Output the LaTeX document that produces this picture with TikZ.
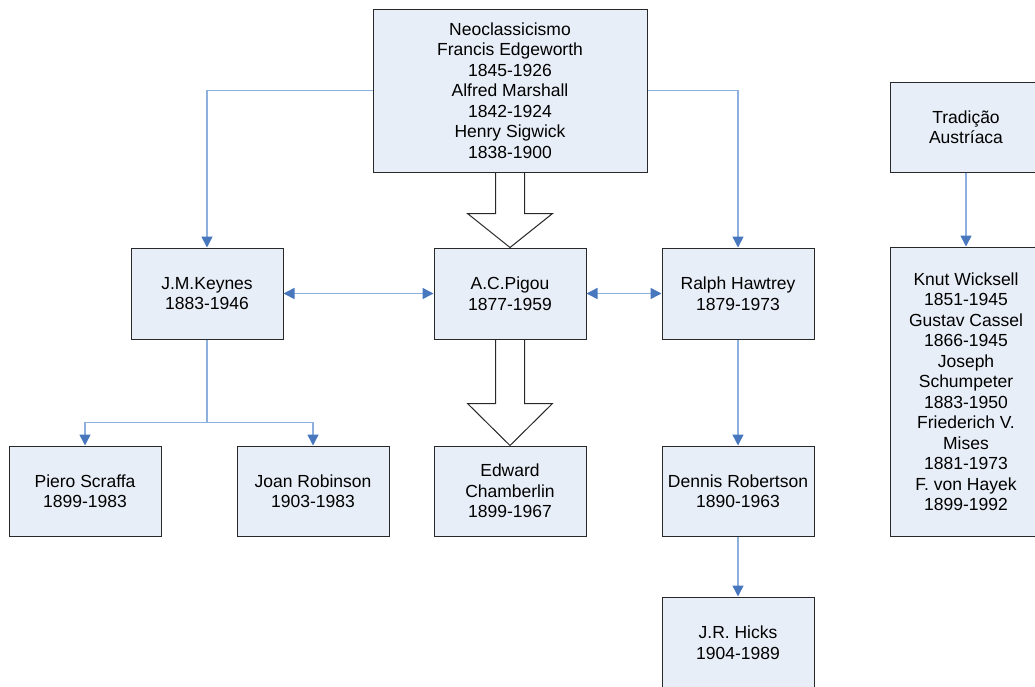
\documentclass[tikz,border=0pt]{standalone}
\usepackage{fontspec}
\setmainfont{Liberation Sans}
\usetikzlibrary{arrows.meta,calc}
\definecolor{boxfill}{RGB}{232,238,247}
\definecolor{boxline}{RGB}{40,40,40}
\definecolor{linkblue}{RGB}{141,176,222}
\definecolor{tipblue}{RGB}{72,119,190}
\newcommand\holarrow[3]{%
  \draw[hollow] ($(#1.south)+(-14.5,0)$) -- ($(#2.north)+(-14.5,#3)$) -- ($(#2.north)+(-42.5,#3)$)
   -- (#2.north) -- ($(#2.north)+(42.5,#3)$) -- ($(#2.north)+(14.5,#3)$) -- ($(#1.south)+(14.5,0)$);}
\begin{document}
\begin{tikzpicture}[x=1pt,y=1pt,
  person/.style={draw=boxline, fill=boxfill, line width=1pt, align=center,
    minimum width=152pt, minimum height=91pt, inner sep=0pt,
    font=\fontsize{17.5}{20.5}\selectfont},
  conn/.style={draw=linkblue, line width=1.5pt,
    -{Triangle[width=11pt,length=11pt,color=tipblue]}},
  biconn/.style={draw=linkblue, line width=1.5pt,
    {Triangle[width=11pt,length=11pt,color=tipblue]}-{Triangle[width=11pt,length=11pt,color=tipblue]}},
  plain/.style={draw=linkblue, line width=1.5pt},
  hollow/.style={draw=boxline, line width=1pt, line join=miter}]
\useasboundingbox (0,0) rectangle (1035,-686);
\clip (0,0) rectangle (1035,-686);
\node[person, minimum width=274pt, minimum height=163pt] (neo) at (510,-90.5)
  {Neoclassicismo\\Francis Edgeworth\\1845-1926\\Alfred Marshall\\1842-1924\\Henry Sigwick\\1838-1900};
\node[person] (keynes) at (207,-293.5) {J.M.Keynes\\1883-1946};
\node[person] (pigou) at (510,-293.5) {A.C.Pigou\\1877-1959};
\node[person] (hawtrey) at (738,-293.5) {Ralph Hawtrey\\1879-1973};
\node[person, minimum height=90pt] (piero) at (85,-491) {Piero Scraffa\\1899-1983};
\node[person, minimum height=90pt] (joan) at (313,-491) {Joan Robinson\\1903-1983};
\node[person, minimum height=90pt] (chamb) at (510,-491) {Edward\\Chamberlin\\1899-1967};
\node[person, minimum height=90pt] (dennis) at (738,-491) {Dennis Robertson\\1890-1963};
\node[person] (hicks) at (738,-642.5) {J.R. Hicks\\1904-1989};
\node[person, minimum height=90pt] (trad) at (966,-127) {Tradição\\Austríaca};
\node[person, minimum height=289pt] (wick) at (966,-391.5)
  {Knut Wicksell\\1851-1945\\Gustav Cassel\\1866-1945\\Joseph\\Schumpeter\\1883-1950\\Friederich V.\\Mises\\1881-1973\\F. von Hayek\\1899-1992};
\draw[conn] (neo.west) -| (keynes.north);
\draw[conn] (neo.east) -| (hawtrey.north);
\draw[biconn] (keynes.east) -- (pigou.west);
\draw[biconn] (pigou.east) -- (hawtrey.west);
\draw[plain] (keynes.south) -- ++(0,-83) coordinate (kfork);
\draw[conn] (kfork) -| (piero.north);
\draw[conn] (kfork) -| (joan.north);
\draw[conn] (hawtrey.south) -- (dennis.north);
\draw[conn] (dennis.south) -- (hicks.north);
\draw[conn] (trad.south) -- (wick.north);
\holarrow{neo}{pigou}{34}
\holarrow{pigou}{chamb}{42}
\end{tikzpicture}
\end{document}
